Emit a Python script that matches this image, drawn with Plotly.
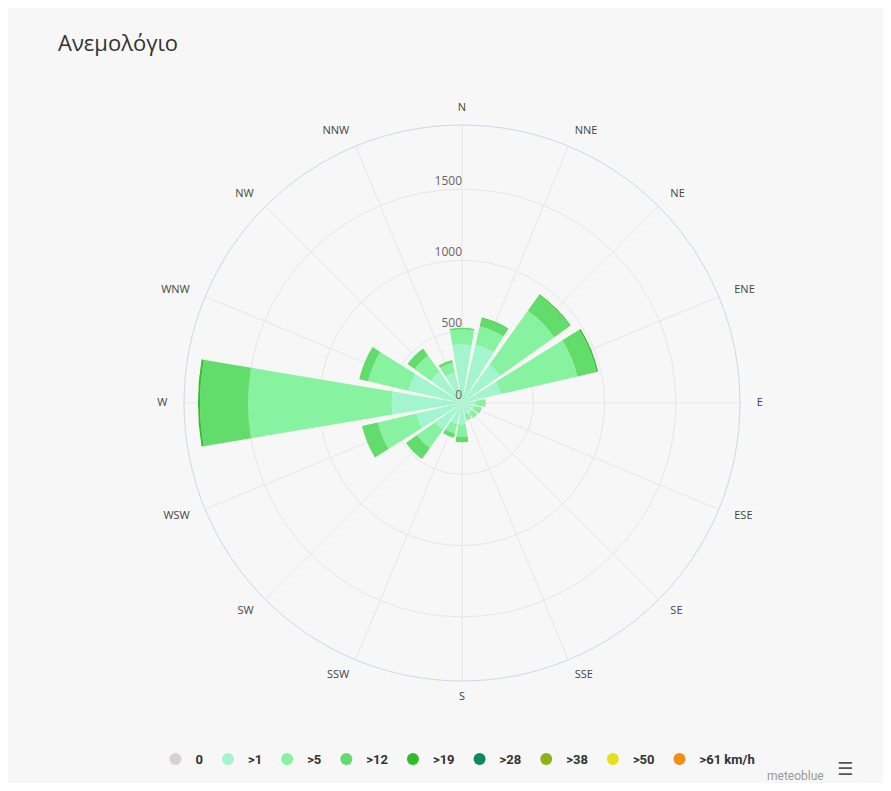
import plotly.graph_objects as go

directions = ["N", "NNE", "NE", "ENE", "E", "ESE", "SE", "SSE",
              "S", "SSW", "SW", "WSW", "W", "WNW", "NW", "NNW"]

speed_classes = ["0", ">1", ">5", ">12", ">19", ">28", ">38", ">50", ">61 km/h"]
class_colors = ["#d6d2d4", "#a2f5cd", "#87f3a0", "#62dc6a", "#2fbd28",
                "#0b8a5d", "#8db31b", "#e6e01c", "#f18f13"]

# hours per direction for each speed class (stacked)
calm = [0] * 16
gt1 = [410, 420, 330, 280, 100, 90, 85, 80, 150, 150, 230, 330, 493, 385, 270, 220]
gt5 = [105, 130, 465, 550, 60, 45, 40, 40, 87, 70, 158, 276, 1007, 290, 140, 70]
gt12 = [12, 60, 135, 140, 5, 5, 5, 5, 38, 30, 95, 114, 338, 65, 60, 20]
gt19 = [0, 5, 6, 10, 0, 0, 0, 0, 0, 0, 0, 0, 14, 0, 0, 0]
gt28 = [0] * 16
gt38 = [0] * 16
gt50 = [0] * 16
gt61 = [0] * 16

series = [calm, gt1, gt5, gt12, gt19, gt28, gt38, gt50, gt61]

radial_ticks = [0, 500, 1000, 1500]
radial_max = 1950

step = 360 / len(directions)
angles = [i * step for i in range(len(directions))]

fig = go.Figure()
for name, color, vals in zip(speed_classes, class_colors, series):
    fig.add_trace(go.Barpolar(
        r=vals, theta=angles, name=name, width=19,
        marker=dict(color=color, line=dict(width=0)),
        showlegend=False, legendgroup=name, hoverinfo="r+theta+name",
    ))

# radial tick labels, left of the north axis, just above each ring
fig.add_trace(go.Scatterpolar(
    r=[v + radial_max * 0.026 for v in radial_ticks], theta=[0] * len(radial_ticks),
    mode="text", text=[str(v) for v in radial_ticks], textposition="middle left",
    cliponaxis=False,
    textfont=dict(size=12, color="#666666", family="Open Sans, sans-serif"),
    showlegend=False, hoverinfo="skip",
))

for name, color in zip(speed_classes, class_colors):
    fig.add_trace(go.Scatterpolar(
        r=[None], theta=[None], mode="markers", name=name,
        marker=dict(color=color, size=12, symbol="circle"),
        legendgroup=name, showlegend=True,
    ))

W, H = 875, 775
cx, cy, R = 454, 395, 278
R2 = 320  # overlay pane for direction labels (same centre, wider range)
label_max = radial_max * R2 / R


def label_pos(a):
    if a % 180 == 0:
        return "middle center"
    return "middle right" if a < 180 else "middle left"


# direction labels just outside the outer ring (drawn on an overlay polar pane)
fig.add_trace(go.Scatterpolar(
    r=[radial_max * 1.06] * len(directions), theta=angles, mode="text",
    text=directions, textposition=[label_pos(a) for a in angles], subplot="polar2",
    textfont=dict(size=11, color="#444444", family="Open Sans, sans-serif"),
    showlegend=False, hoverinfo="skip",
))

fig.update_layout(
    width=W, height=H,
    margin=dict(l=0, r=0, t=0, b=0),
    paper_bgcolor="#f7f7f7",
    barmode="stack",
    font=dict(family="Open Sans, sans-serif", color="#333333"),
    title=dict(text="Ανεμολόγιο", x=50 / W, xanchor="left", xref="paper",
               y=1 - 35 / H, yanchor="middle", yref="container",
               font=dict(size=22, color="#333333", family="Open Sans, sans-serif")),
    polar=dict(
        domain=dict(x=[(cx - R) / W, (cx + R) / W], y=[(H - cy - R) / H, (H - cy + R) / H]),
        bgcolor="#f7f7f7",
        bargap=0,
        angularaxis=dict(
            rotation=90, direction="clockwise",
            tickmode="array", tickvals=angles, ticktext=directions,
            showticklabels=False,
            showline=True, linecolor="#ccd6eb", linewidth=1,
            gridcolor="#e6e6e6", gridwidth=1, ticks="",
        ),
        radialaxis=dict(
            range=[0, radial_max], tickmode="array", tickvals=radial_ticks,
            angle=90, showticklabels=False,
            showline=False, gridcolor="#e6e6e6", gridwidth=1, ticks="",
        ),
    ),
    polar2=dict(
        domain=dict(x=[(cx - R2) / W, (cx + R2) / W], y=[(H - cy - R2) / H, (H - cy + R2) / H]),
        bgcolor="rgba(0,0,0,0)",
        angularaxis=dict(rotation=90, direction="clockwise", visible=False,
                         showgrid=False, showline=False, showticklabels=False, ticks=""),
        radialaxis=dict(range=[0, label_max], visible=False, showgrid=False,
                        showline=False, showticklabels=False, ticks=""),
    ),
    legend=dict(
        orientation="h", x=450 / W, xanchor="center", y=1 - 751 / H, yanchor="middle",
        font=dict(size=13, color="#333333", family="Roboto, sans-serif", weight="bold"),
        itemwidth=30, bgcolor="rgba(0,0,0,0)",
    ),
    annotations=[
        dict(text="meteoblue", x=787 / W, y=1 - 768 / H, xref="paper", yref="paper",
             xanchor="center", yanchor="middle", showarrow=False,
             font=dict(size=12, color="#999999", family="Roboto, sans-serif")),
        dict(text="☰", x=837 / W, y=0.002, xref="paper", yref="paper",
             xanchor="center", yanchor="bottom", showarrow=False,
             font=dict(size=18, color="#555555", family="DejaVu Sans")),
    ],
)

fig.write_html("out.html")
